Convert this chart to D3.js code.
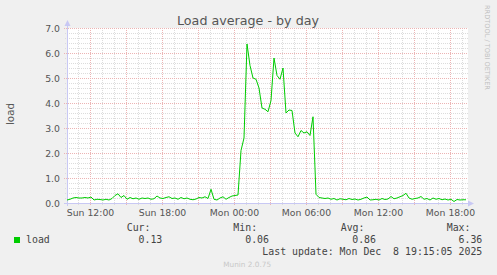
<!DOCTYPE html>
<html lang="en">
<head>
    <meta charset="UTF-8">
    <title>Load average - by day</title>
    <script src="https://d3js.org/d3.v7.min.js"></script>
    <style>
        body {
            margin: 0;
            background-color: #f0f0f0;
        }
        svg text {
            font-family: "DejaVu Sans", sans-serif;
            fill: #555;
        }
        .mono {
            font-family: "DejaVu Sans Mono", monospace !important;
            font-size: 9.9px;
            fill: #444;
        }
        .grid-minor {
            stroke: #dcdcdc;
            stroke-dasharray: 1,1;
            shape-rendering: crispEdges;
        }
        .grid-major {
            stroke: #ecb4b4;
            stroke-dasharray: 1,1;
            shape-rendering: crispEdges;
        }
        .axis-line {
            stroke: #c8c8f4;
            shape-rendering: crispEdges;
        }
    </style>
</head>
<body>
    <svg id="chart" width="497" height="275"></svg>
    <script>
        // load values sampled every 15 minutes, from Sun Dec 7 10:05
        const seriesStart = Date.UTC(2025, 11, 7, 10, 5);
        const stepMinutes = 15;
        const loadValues = [
            0.12, 0.15, 0.20, 0.22, 0.20, 0.20, 0.22, 0.20, 0.24, 0.12,
            0.15, 0.14, 0.12, 0.15, 0.12, 0.18, 0.30, 0.37, 0.22, 0.30,
            0.15, 0.22, 0.17, 0.20, 0.15, 0.20, 0.18, 0.20, 0.15, 0.17,
            0.28, 0.20, 0.18, 0.22, 0.25, 0.18, 0.20, 0.15, 0.22, 0.17,
            0.20, 0.15, 0.13, 0.16, 0.22, 0.20, 0.25, 0.18, 0.55, 0.15,
            0.12, 0.20, 0.25, 0.15, 0.22, 0.28, 0.30, 0.32, 2.10, 2.60,
            6.36, 5.50, 5.00, 4.95, 4.60, 3.80, 3.75, 3.65, 4.10, 5.80,
            5.10, 4.95, 5.40, 3.60, 3.72, 3.70, 2.80, 2.65, 2.90, 2.80,
            2.85, 2.70, 3.45, 0.35, 0.22, 0.20, 0.18, 0.20, 0.15, 0.18,
            0.12, 0.17, 0.15, 0.13, 0.18, 0.14, 0.16, 0.12, 0.15, 0.20,
            0.24, 0.12, 0.13, 0.15, 0.12, 0.18, 0.14, 0.16, 0.26, 0.17,
            0.20, 0.25, 0.30, 0.39, 0.20, 0.15, 0.18, 0.20, 0.26, 0.15,
            0.18, 0.12, 0.20, 0.15, 0.18, 0.13, 0.16, 0.12, 0.15, 0.06,
            0.14, 0.12, 0.13, 0.13
        ];

        const yTicks = [0, 1, 2, 3, 4, 5, 6, 7];
        const legendHeaders = ["Cur:", "Min:", "Avg:", "Max:"];
        const legendValues = ["0.13", "0.06", "0.86", "6.36"];
        const lastUpdate = "Last update: Mon Dec  8 19:15:05 2025";

        const data = loadValues.map((v, i) => ({
            t: new Date(seriesStart + i * stepMinutes * 60000),
            v: v
        }));

        const svg = d3.select("#chart");
        const plotLeft = 67, plotRight = 468, plotTop = 28, plotBottom = 203;

        const x = d3.scaleUtc()
            .domain([new Date(Date.UTC(2025, 11, 7, 10, 5)), new Date(Date.UTC(2025, 11, 8, 19, 30))])
            .range([plotLeft, plotRight]);
        const y = d3.scaleLinear().domain([0, 7]).range([plotBottom, plotTop]);

        // canvas
        svg.append("rect")
            .attr("x", plotLeft).attr("y", plotTop)
            .attr("width", plotRight - plotLeft).attr("height", plotBottom - plotTop)
            .attr("fill", "#ffffff");

        const px = v => Math.round(v) + 0.5;

        // minor grid
        const hours = x.ticks(d3.utcHour.every(1));
        svg.selectAll(".vminor").data(hours.filter(d => d.getUTCHours() % 3 !== 0)).enter()
            .append("line").attr("class", "grid-minor")
            .attr("x1", d => px(x(d))).attr("x2", d => px(x(d)))
            .attr("y1", plotTop).attr("y2", plotBottom + 2);
        const minorY = d3.range(1, 35).filter(k => k % 5 !== 0).map(k => k / 5);
        svg.selectAll(".hminor").data(minorY).enter()
            .append("line").attr("class", "grid-minor")
            .attr("x1", plotLeft - 2).attr("x2", plotRight)
            .attr("y1", d => px(y(d))).attr("y2", d => px(y(d)));

        // major grid
        svg.selectAll(".vmajor").data(hours.filter(d => d.getUTCHours() % 3 === 0)).enter()
            .append("line").attr("class", "grid-major")
            .attr("x1", d => px(x(d))).attr("x2", d => px(x(d)))
            .attr("y1", plotTop).attr("y2", plotBottom + 3);
        svg.selectAll(".hmajor").data(yTicks.slice(1)).enter()
            .append("line").attr("class", "grid-major")
            .attr("x1", plotLeft - 3).attr("x2", plotRight)
            .attr("y1", d => px(y(d))).attr("y2", d => px(y(d)));

        // axes
        svg.append("line").attr("class", "axis-line")
            .attr("x1", plotLeft + 0.5).attr("x2", plotLeft + 0.5)
            .attr("y1", 22).attr("y2", plotBottom + 3);
        svg.append("line").attr("class", "axis-line")
            .attr("x1", plotLeft - 3).attr("x2", 472)
            .attr("y1", plotBottom + 0.5).attr("y2", plotBottom + 0.5);
        svg.append("path").attr("fill", "#c8c8f4")
            .attr("d", `M${plotLeft - 2.5},26 L${plotLeft + 3.5},26 L${plotLeft + 0.5},20 Z`);
        svg.append("path").attr("fill", "#c8c8f4")
            .attr("d", `M468,${plotBottom - 2.5} L468,${plotBottom + 3.5} L474,${plotBottom + 0.5} Z`);

        // data line
        const line = d3.line().x(d => x(d.t)).y(d => y(d.v));
        svg.append("path").datum(data)
            .attr("fill", "none")
            .attr("stroke", "#00cc00")
            .attr("stroke-width", 1)
            .attr("d", line);

        // y tick labels
        const yAxis = svg.append("g")
            .attr("transform", `translate(${plotLeft - 4},0)`)
            .call(d3.axisLeft(y).tickValues(yTicks).tickFormat(d3.format(".1f")).tickSize(0));
        yAxis.select(".domain").remove();
        yAxis.selectAll("text").attr("font-size", "9.3px").attr("fill", "#555")
            .attr("font-family", "DejaVu Sans").attr("dy", "0.35em");

        // x tick labels
        const xAxis = svg.append("g")
            .attr("transform", `translate(0,${plotBottom + 3})`)
            .call(d3.axisBottom(x).ticks(d3.utcHour.every(6)).tickFormat(d3.utcFormat("%a %H:%M")).tickSize(0));
        xAxis.select(".domain").remove();
        xAxis.selectAll("text").attr("font-size", "9.3px").attr("fill", "#555")
            .attr("font-family", "DejaVu Sans");

        // title and labels
        svg.append("text").attr("x", 248).attr("y", 24.5)
            .attr("text-anchor", "middle").attr("font-size", "12.7px")
            .text("Load average - by day");
        svg.append("text")
            .attr("transform", "translate(14,114) rotate(-90)")
            .attr("text-anchor", "middle").attr("font-size", "10.3px")
            .text("load");
        svg.append("text")
            .attr("transform", "translate(485,5) rotate(90)")
            .attr("font-size", "6.6px").style("fill", "#c0c0c0")
            .text("RRDTOOL / TOBI OETIKER");

        // legend
        const colX = [126.7, 233.3, 340.7, 446.7];
        const colEnd = [162.3, 269, 376, 482.3];
        svg.selectAll(".lh").data(legendHeaders).enter()
            .append("text").attr("class", "mono")
            .attr("x", (d, i) => colX[i]).attr("y", 231)
            .text(d => d);
        svg.selectAll(".lv").data(legendValues).enter()
            .append("text").attr("class", "mono")
            .attr("x", (d, i) => colEnd[i]).attr("y", 242.5)
            .attr("text-anchor", "end")
            .text(d => d);
        svg.append("rect").attr("x", 14).attr("y", 237)
            .attr("width", 6).attr("height", 6).attr("fill", "#00cc00");
        svg.append("text").attr("class", "mono").attr("x", 26).attr("y", 242.5).text("load");
        svg.append("text").attr("class", "mono").attr("x", 482.3).attr("y", 254.5)
            .attr("text-anchor", "end").style("white-space", "pre")
            .text(lastUpdate);
        svg.append("text").attr("x", 223.3).attr("y", 266.5)
            .attr("font-size", "7.3px").style("fill", "#c8c8c8")
            .text("Munin 2.0.75");
    </script>
</body>
</html>
